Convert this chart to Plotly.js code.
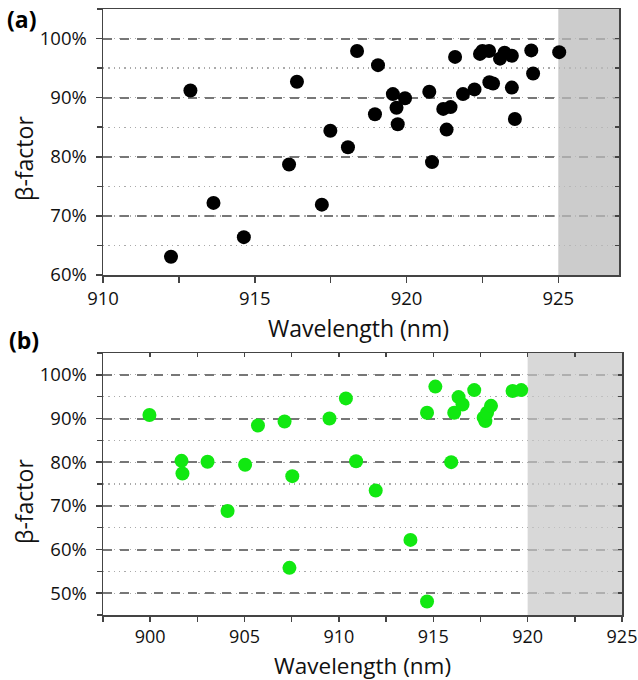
<!DOCTYPE html>
<html>
<head>
<meta charset="utf-8">
<script src="https://cdn.plot.ly/plotly-3.0.1.min.js"></script>
<style>html,body{margin:0;padding:0;background:#fff;}#chart{width:638px;height:680px;}</style>
</head>
<body>
<div id="chart"></div>
<script>
// Panel (a) data
const wlA = [912.24, 912.88, 913.64, 914.64, 916.13, 916.39, 917.21, 917.49, 918.07, 918.37,
  919.06, 918.96, 919.55, 919.67, 919.95, 919.71, 920.75, 920.84, 921.21, 921.45,
  921.32, 921.60, 921.86, 922.24, 922.42, 922.50, 922.72, 922.73, 922.85, 923.08,
  923.23, 923.47, 923.47, 923.57, 924.11, 924.17, 925.03];
const betaA = [63.1, 91.2, 72.2, 66.4, 78.7, 92.7, 71.9, 84.4, 81.6, 97.9,
  95.5, 87.2, 90.6, 88.3, 89.9, 85.5, 91.0, 79.1, 88.1, 88.4,
  84.6, 96.9, 90.6, 91.4, 97.4, 97.9, 97.9, 92.6, 92.4, 96.6,
  97.6, 97.1, 91.7, 86.4, 98.0, 94.1, 97.7];
// Panel (b) data
const wlB = [899.96, 901.66, 901.71, 903.04, 905.03, 904.10, 905.71, 907.12, 907.53, 907.38,
  909.50, 910.37, 910.91, 911.95, 913.79, 914.67, 914.67, 915.11, 915.95, 916.11,
  916.34, 916.55, 917.17, 917.67, 917.76, 917.85, 918.06, 919.20, 919.66];
const betaB = [90.8, 80.3, 77.4, 80.1, 79.4, 68.8, 88.4, 89.3, 76.8, 55.8,
  90.0, 94.6, 80.2, 73.5, 62.2, 48.1, 91.3, 97.3, 80.0, 91.3,
  94.9, 93.2, 96.5, 90.2, 89.4, 91.3, 92.9, 96.3, 96.5];
const yTicksA = [60, 70, 80, 90, 100];
const yTicksB = [50, 60, 70, 80, 90, 100];
const xTicksA = [910, 915, 920, 925];
const xTicksB = [900, 905, 910, 915, 920, 925];
const rangeXA = [910, 927], rangeYA = [60, 105];
const rangeXB = [897.5, 925], rangeYB = [45, 105];
const shadeA = [925, 927], shadeB = [920, 925];
const xTitle = 'Wavelength (nm)', yTitle = 'β-factor';

const FONT = 'Open Sans, Noto Sans, sans-serif';
const L = 103, R = 16, T = 9, B = 65, W = 638, H = 680;
const pw = W - L - R, ph = H - T - B;
const px = v => (v - L) / pw;
const py = v => (H - B - v) / ph;

const axisCommon = {
  showline: true, linecolor: '#444', linewidth: 1.5, mirror: true,
  ticks: 'outside', ticklen: 6, tickcolor: '#444', tickwidth: 1.5,
  tickfont: {family: FONT, size: 18.5, color: '#111'}, zeroline: false,
  ticklabeloverflow: 'allow'
};
const yGrid = {
  showgrid: true, gridcolor: '#777', gridwidth: 2, griddash: '9px,8px',
  ticklabelstandoff: 5,
  minor: {dtick: 5, ticks: 'outside', ticklen: 5, tickcolor: '#444', showgrid: true,
    gridcolor: '#aaa', gridwidth: 1.3, griddash: '1.3px,4px'}
};
const titleFont = {family: FONT, size: 23, color: '#111'};
const overlayCommon = {
  showline: false, showgrid: false, zeroline: false, showticklabels: false,
  ticks: 'inside', ticklen: 4, tickcolor: '#444', tickwidth: 1.5
};

const traces = [
  {x: wlA, y: betaA, xaxis: 'x', yaxis: 'y', type: 'scatter', mode: 'markers',
   marker: {color: '#000', size: 14}, hoverinfo: 'skip'},
  {x: wlB, y: betaB, xaxis: 'x2', yaxis: 'y2', type: 'scatter', mode: 'markers',
   marker: {color: '#11e811', size: 14}, hoverinfo: 'skip'},
  // empty helper traces so the mirrored inside-tick axes get drawn
  {x: [], y: [], xaxis: 'x', yaxis: 'y3', type: 'scatter', mode: 'markers', hoverinfo: 'skip'},
  {x: [], y: [], xaxis: 'x2', yaxis: 'y4', type: 'scatter', mode: 'markers', hoverinfo: 'skip'},
  {x: [], y: [], xaxis: 'x3', yaxis: 'y2', type: 'scatter', mode: 'markers', hoverinfo: 'skip'}
];

const layout = {
  width: W, height: H, showlegend: false,
  paper_bgcolor: '#fff', plot_bgcolor: '#fff',
  margin: {l: L, r: R, t: T, b: B},
  xaxis: Object.assign({}, axisCommon, {
    domain: [0, px(619)], range: rangeXA, tickvals: xTicksA, ticktext: xTicksA.map(String),
    showgrid: false, anchor: 'y',
    minor: {dtick: 2.5, tick0: 910, ticks: 'outside', ticklen: 6, tickcolor: '#444', showgrid: false}
  }),
  yaxis: Object.assign({}, axisCommon, yGrid, {
    domain: [py(275), 1], range: rangeYA, tickvals: yTicksA, ticktext: yTicksA.map(v => v + '%'),
    anchor: 'x'
  }),
  yaxis3: Object.assign({}, overlayCommon, {
    overlaying: 'y', side: 'right', anchor: 'x', range: rangeYA, tickvals: yTicksA,
    minor: {dtick: 5, ticks: 'inside', ticklen: 4, tickcolor: '#444', showgrid: false}
  }),
  xaxis2: Object.assign({}, axisCommon, {
    domain: [0, 1], range: rangeXB, tickvals: xTicksB, ticktext: xTicksB.map(String),
    showgrid: false, anchor: 'y2', ticklen: 5, tickfont: {family: FONT, size: 18, color: '#111'},
    minor: {dtick: 2.5, tick0: 900, ticks: 'outside', ticklen: 5, tickcolor: '#444', showgrid: false}
  }),
  xaxis3: Object.assign({}, overlayCommon, {
    overlaying: 'x2', side: 'top', anchor: 'y2', range: rangeXB, tickvals: xTicksB,
    minor: {dtick: 2.5, tick0: 900, ticks: 'inside', ticklen: 4, tickcolor: '#444', showgrid: false}
  }),
  yaxis2: Object.assign({}, axisCommon, yGrid, {
    domain: [0, py(353)], range: rangeYB, tickvals: yTicksB, ticktext: yTicksB.map(v => v + '%'),
    anchor: 'x2'
  }),
  yaxis4: Object.assign({}, overlayCommon, {
    overlaying: 'y2', side: 'right', anchor: 'x2', range: rangeYB, tickvals: yTicksB,
    minor: {dtick: 5, ticks: 'inside', ticklen: 4, tickcolor: '#444', showgrid: false}
  }),
  shapes: [
    {type: 'rect', xref: 'x', yref: 'y', x0: shadeA[0], x1: shadeA[1], y0: rangeYA[0], y1: rangeYA[1],
     fillcolor: 'rgba(187,187,187,0.75)', line: {width: 0}, layer: 'between'},
    {type: 'rect', xref: 'x2', yref: 'y2', x0: shadeB[0], x1: shadeB[1], y0: rangeYB[0], y1: rangeYB[1],
     fillcolor: 'rgba(200,200,200,0.7)', line: {width: 0}, layer: 'between'}
  ],
  annotations: [
    {text: '<b>(a)</b>', xref: 'paper', yref: 'paper', x: px(5), y: py(19), xanchor: 'left', yanchor: 'middle',
     showarrow: false, font: {family: FONT, size: 23, color: '#000'}},
    {text: '<b>(b)</b>', xref: 'paper', yref: 'paper', x: px(7), y: py(340), xanchor: 'left', yanchor: 'middle',
     showarrow: false, font: {family: FONT, size: 23, color: '#000'}},
    {text: xTitle, xref: 'paper', yref: 'paper', x: px(358), y: py(328), xanchor: 'center', yanchor: 'middle',
     showarrow: false, font: titleFont, borderpad: 0},
    {text: xTitle, xref: 'paper', yref: 'paper', x: px(362), y: py(665), xanchor: 'center', yanchor: 'middle',
     showarrow: false, font: {family: FONT, size: 22.5, color: '#111'}, borderpad: 0},
    {text: yTitle, xref: 'paper', yref: 'paper', x: px(24), y: py(159), xanchor: 'center', yanchor: 'middle',
     textangle: -90, showarrow: false, font: titleFont},
    {text: yTitle, xref: 'paper', yref: 'paper', x: px(24), y: py(502), xanchor: 'center', yanchor: 'middle',
     textangle: -90, showarrow: false, font: titleFont}
  ]
};

Plotly.newPlot('chart', traces, layout, {staticPlot: true, displayModeBar: false});
</script>
</body>
</html>
